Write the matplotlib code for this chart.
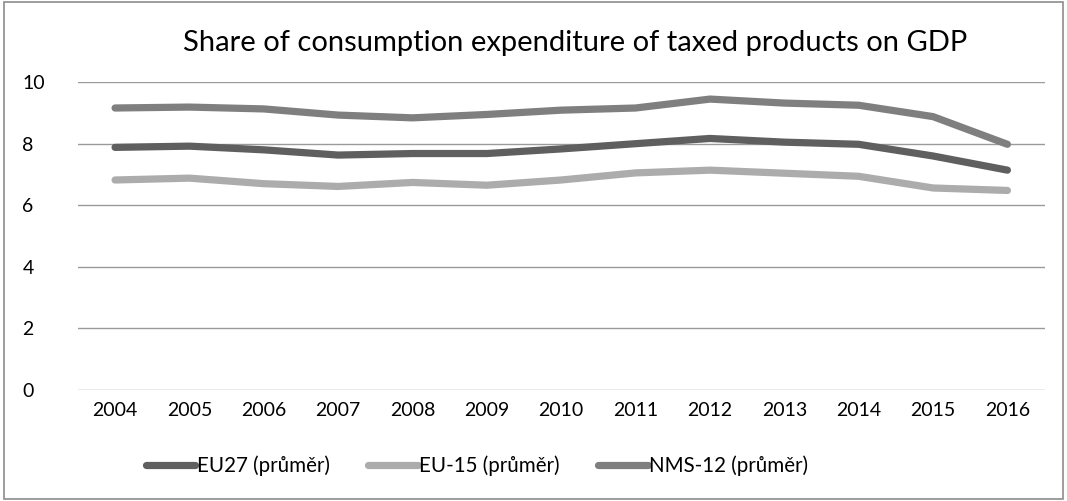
import matplotlib.pyplot as plt
from matplotlib.patches import Rectangle

years = ['2004', '2005', '2006', '2007', '2008', '2009', '2010',
         '2011', '2012', '2013', '2014', '2015', '2016']
eu27 = [7.88, 7.92, 7.80, 7.63, 7.68, 7.68, 7.83, 8.00, 8.17, 8.05, 7.98, 7.60, 7.14]
eu15 = [6.82, 6.88, 6.70, 6.61, 6.74, 6.65, 6.82, 7.05, 7.14, 7.04, 6.94, 6.56, 6.48]
nms12 = [9.16, 9.19, 9.13, 8.93, 8.84, 8.95, 9.09, 9.16, 9.45, 9.32, 9.25, 8.88, 7.98]

plt.rcParams['font.family'] = ['Lato', 'DejaVu Sans']

fig = plt.figure(figsize=(10.67, 5.01), dpi=100)
ax = fig.add_axes([0.073, 0.222, 0.906, 0.614])

x = range(len(years))
ax.plot(x, eu27, color='#5f5f5f', lw=5.2, solid_capstyle='round', label='EU27 (průměr)')
ax.plot(x, eu15, color='#acacac', lw=5.2, solid_capstyle='round', label='EU-15 (průměr)')
ax.plot(x, nms12, color='#7f7f7f', lw=5.2, solid_capstyle='round', label='NMS-12 (průměr)')

ax.set_xlim(-0.5, len(years) - 0.5)
ax.set_ylim(0, 10)
ax.set_yticks([0, 2, 4, 6, 8, 10])
ax.set_xticks(list(x))
ax.set_xticklabels(years)
ax.tick_params(length=0, labelsize=14, pad=9)
ax.tick_params(axis='y', pad=40)
for lbl in ax.get_yticklabels():
    lbl.set_horizontalalignment('left')
ax.grid(axis='y', color='#9a9a9a', lw=1)
ax.set_axisbelow(True)
for s in ax.spines.values():
    s.set_visible(False)

fig.text(0.539, 0.914, 'Share of consumption expenditure of taxed products on GDP',
         ha='center', va='center', fontsize=21)

fig.legend(loc='center', bbox_to_anchor=(0.447, 0.07), ncol=3, frameon=False,
           fontsize=14.8, handlelength=2.4, handletextpad=0.05, columnspacing=1.9)

fig.patches.append(Rectangle((0.004, 0.004), 0.992, 0.992, transform=fig.transFigure,
                             fill=False, edgecolor='#8c8c8c', lw=1.2))

fig.savefig('out.png', dpi=100)
